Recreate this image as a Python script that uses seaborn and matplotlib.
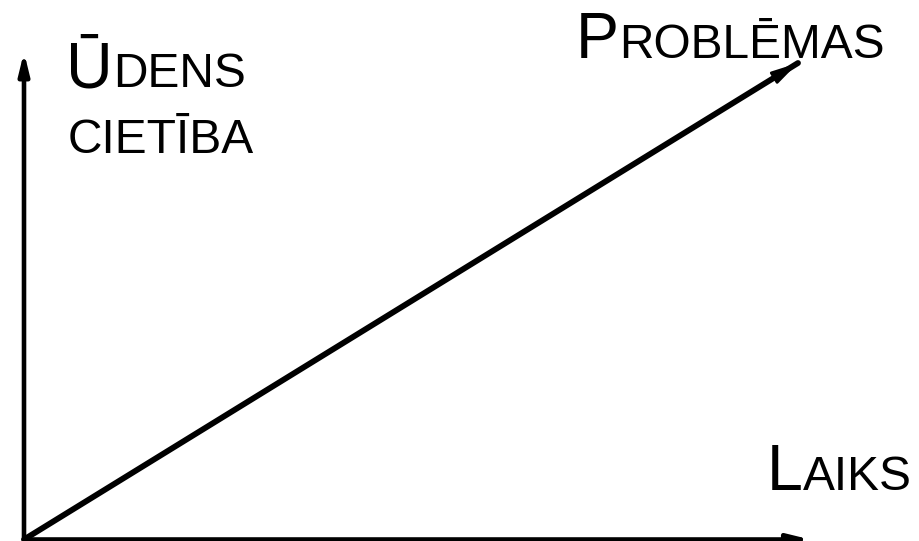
import matplotlib
matplotlib.use("Agg")
import matplotlib.pyplot as plt
import seaborn as sns

# Data
laiks = [0.0, 1.0]          # time (x)
problemas = [0.0, 1.0]      # problems grow with hardness/time
x_axis_end = 1.016
y_axis_end = 1.023

labels_y = [("Ū", "DENS"), ("", "CIETĪBA")]
label_line = ("P", "ROBLĒMAS")
label_x = ("L", "AIKS")

sns.set_theme(style="white")
plt.rcParams["font.family"] = ["Liberation Sans", "DejaVu Sans"]

W, H = 920, 541
fig = plt.figure(figsize=(W / 100, H / 100), dpi=100)
fig.patch.set_facecolor("white")
ox, oy = 24.0, 539.5
tx, ty = 798.0, 63.0
ax = fig.add_axes([ox / W, (H - oy) / H, (tx - ox) / W, (oy - ty) / H])
ax.set_xlim(0, 1)
ax.set_ylim(0, 1)
ax.axis("off")

# axes arrows
arrow_kw = dict(arrowstyle="-|>,head_length=0.9,head_width=0.22", color="black",
                lw=3.3, mutation_scale=14, shrinkA=0, shrinkB=0)
ax.annotate("", xy=(0, y_axis_end), xytext=(0, 0), arrowprops=arrow_kw,
            annotation_clip=False)
ax.annotate("", xy=(x_axis_end, 0), xytext=(0, 0), arrowprops=arrow_kw,
            annotation_clip=False)

# diagonal line
sns.lineplot(x=laiks, y=problemas, ax=ax, color="black", lw=4.2, clip_on=False)
ax.annotate("", xy=(laiks[1], problemas[1]), xytext=(laiks[1] - 0.03, problemas[1] - 0.03),
            arrowprops=dict(arrowstyle="-|>,head_length=1.0,head_width=0.25", color="black",
                            lw=2, mutation_scale=16, shrinkA=0, shrinkB=0),
            annotation_clip=False)

BIG, SMALL = 46.5, 34.5
fig.canvas.draw()
renderer = fig.canvas.get_renderer()


def smallcaps(big, rest, x_px, base_px):
    x = x_px
    yf = (H - base_px) / H
    if big:
        t = fig.text(x / W, yf, big, fontsize=BIG, va="baseline", ha="left", color="black")
        bb = t.get_window_extent(renderer)
        x = bb.x1
    fig.text(x / W, yf, rest, fontsize=SMALL, va="baseline", ha="left", color="black")


smallcaps(labels_y[0][0], labels_y[0][1], 66, 87)
smallcaps(labels_y[1][0], labels_y[1][1], 68, 153)
smallcaps(label_line[0], label_line[1], 576, 58)
smallcaps(label_x[0], label_x[1], 767, 490)

fig.savefig("out.png", dpi=100, facecolor="white")
